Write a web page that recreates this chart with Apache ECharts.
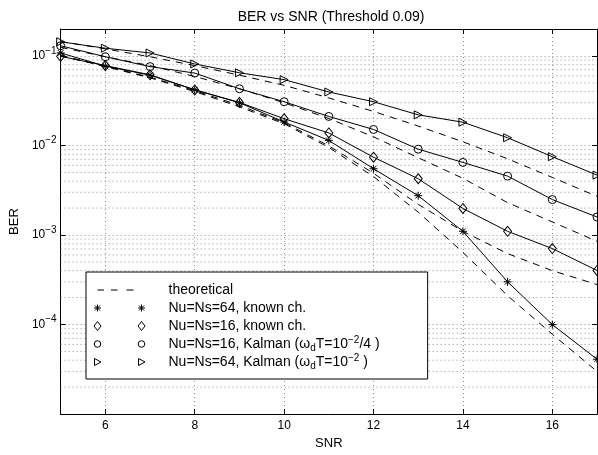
<!DOCTYPE html>
<html>
<head>
<meta charset="utf-8">
<script src="https://cdn.jsdelivr.net/npm/echarts@6/dist/echarts.min.js"></script>
<style>
html,body{margin:0;padding:0;background:#fff;}
#chart{width:598px;height:455px;}
</style>
</head>
<body>
<div id="chart"></div>
<script>
// ---- data ----
var snr = [5, 6, 7, 8, 9, 10, 11, 12, 13, 14, 15, 16, 17];
var knownNs64 = [0.108, 0.077, 0.061, 0.042, 0.030, 0.0183, 0.0114, 0.0055, 0.00275, 0.0011, 0.0003, 0.0001, 0.000041];
var knownNs16 = [0.099, 0.078, 0.0616, 0.0417, 0.0303, 0.0199, 0.0138, 0.0074, 0.00425, 0.00198, 0.0011, 0.000706, 0.000402];
var kalmanNs16 = [0.13, 0.098, 0.076, 0.0644, 0.043, 0.0308, 0.0211, 0.0151, 0.0091, 0.00647, 0.00455, 0.00249, 0.00159];
var kalmanNs64 = [0.144, 0.122, 0.108, 0.0814, 0.0649, 0.0544, 0.0396, 0.0308, 0.022, 0.0182, 0.0122, 0.0075, 0.00467];
var theoryA = [0.102, 0.076, 0.057, 0.040, 0.027, 0.0175, 0.0095, 0.0045, 0.0018, 0.00064, 0.00021, 0.000078, 0.00003];
var theoryB = [0.100, 0.077, 0.058, 0.041, 0.028, 0.018, 0.0099, 0.0049, 0.0022, 0.0011, 0.00062, 0.0004, 0.00028];
var theoryC = [0.125, 0.098, 0.078, 0.059, 0.043, 0.030, 0.020, 0.0125, 0.0073, 0.0043, 0.0023, 0.0014, 0.00085];
var theoryD = [0.145, 0.120, 0.098, 0.078, 0.061, 0.047, 0.034, 0.024, 0.0165, 0.011, 0.0071, 0.0044, 0.0027];
var xTicks = [6, 8, 10, 12, 14, 16];
var legendNames = ['theoretical', 'Nu=Ns=64, known ch.', 'Nu=Ns=16, known ch.', 'Nu=Ns=16, Kalman', 'Nu=Ns=64, Kalman'];

function pairs(ys) { return snr.map(function (x, i) { return [x, ys[i]]; }); }

var FONT = '"Liberation Sans", Arial, Helvetica, sans-serif';

// symbols
var SYM_STAR = 'path://M0,5L10,5M5,0L5,10M1.5,1.5L8.5,8.5M8.5,1.5L1.5,8.5';
var SYM_DIAMOND = 'path://M5,0L10,6L5,12L0,6Z';
var SYM_CIRCLE = 'path://M10,5A5,5,0,1,1,0,5A5,5,0,1,1,10,5Z';
var SYM_TRI = 'path://M0,0L10,5L0,10Z';

// legend icons (box 70 x 10, markers centred at x=4 and x=48)
var ANCH = 'M0,0L0,0M70,10L70,10';
function starAt(cx) {
  var r = 3.5, d = 2.5;
  return 'M' + (cx - r) + ',5L' + (cx + r) + ',5M' + cx + ',' + (5 - r) + 'L' + cx + ',' + (5 + r) +
    'M' + (cx - d) + ',' + (5 - d) + 'L' + (cx + d) + ',' + (5 + d) + 'M' + (cx + d) + ',' + (5 - d) + 'L' + (cx - d) + ',' + (5 + d);
}
function diamondAt(cx) { return 'M' + cx + ',0.5L' + (cx + 3.5) + ',5L' + cx + ',9.5L' + (cx - 3.5) + ',5Z'; }
function circleAt(cx) { return 'M' + (cx + 3.3) + ',5A3.3,3.3,0,1,1,' + (cx - 3.3) + ',5A3.3,3.3,0,1,1,' + (cx + 3.3) + ',5Z'; }
function triAt(cx) { return 'M' + (cx - 3) + ',1.5L' + (cx + 3.5) + ',5L' + (cx - 3) + ',8.5Z'; }
function dashRect(a, b) { return 'M' + a + ',4.5L' + b + ',4.5L' + b + ',5.5L' + a + ',5.5Z'; }
var ICON_THEORY = 'path://' + ANCH + dashRect(4, 10.5) + dashRect(17.5, 24) + dashRect(33, 40);
var ICON_STAR = 'path://' + ANCH + starAt(4) + starAt(48);
var ICON_DIAMOND = 'path://' + ANCH + diamondAt(4) + diamondAt(48);
var ICON_CIRCLE = 'path://' + ANCH + circleAt(4) + circleAt(48);
var ICON_TRI = 'path://' + ANCH + triAt(4) + triAt(48);

var strokeIcon = { color: 'transparent', borderColor: '#000', borderWidth: 1 };

// minor grid positions on the log axis (2..9 x 10^e)
var minorVals = [];
for (var e = -5; e <= -2; e++) {
  for (var k = 2; k <= 9; k++) minorVals.push(+(k * Math.pow(10, e)).toPrecision(3));
}

var GRID_LINE = { type: [1, 3], color: '#8c8c8c', width: 1 };

function gridSeries(v) {
  return {
    type: 'line', data: [[snr[0], v], [snr[snr.length - 1], v]], symbol: 'none',
    lineStyle: GRID_LINE, z: 1, silent: true, legendHoverLink: false, tooltip: { show: false }
  };
}
function theorySeries(ys) {
  return {
    name: 'theoretical', type: 'line', data: pairs(ys), symbol: 'none',
    lineStyle: { color: '#000', width: 1, type: [7, 6] }, itemStyle: { color: '#000' },
    z: 3, silent: true
  };
}
function markerSeries(name, ys, sym, size) {
  return {
    name: name, type: 'line', data: pairs(ys), symbol: sym, symbolSize: size,
    showAllSymbol: true,
    lineStyle: { color: '#000', width: 1, type: 'solid' },
    itemStyle: { color: 'transparent', borderColor: '#000', borderWidth: 1 },
    z: 4, silent: true
  };
}

var series = minorVals.map(gridSeries).concat([
  theorySeries(theoryA),
  theorySeries(theoryB),
  theorySeries(theoryC),
  theorySeries(theoryD),
  markerSeries(legendNames[1], knownNs64, SYM_STAR, 8),
  markerSeries(legendNames[2], knownNs16, SYM_DIAMOND, [8, 10]),
  markerSeries(legendNames[3], kalmanNs16, SYM_CIRCLE, 8),
  markerSeries(legendNames[4], kalmanNs64, SYM_TRI, [8, 8])
]);

var chart = echarts.init(document.getElementById('chart'), null, { renderer: 'canvas' });
chart.setOption({
  animation: false,
  backgroundColor: '#fff',
  textStyle: { fontFamily: FONT, color: '#000' },
  title: {
    text: 'BER vs SNR (Threshold 0.09)', left: 326, top: 5, textAlign: 'center',
    textStyle: { fontFamily: FONT, fontSize: 14, fontWeight: 'normal', color: '#000' }
  },
  grid: { left: 56, right: 1, top: 29, bottom: 33, containLabel: false },
  legend: {
    orient: 'vertical', left: 86, top: 272,
    backgroundColor: '#fff', borderColor: '#000', borderWidth: 1,
    padding: [9, 48, 8, 7], itemGap: 0, itemWidth: 70, itemHeight: 10,
    selectedMode: false,
    textStyle: {
      fontFamily: FONT, fontSize: 14, color: '#000', lineHeight: 18,
      rich: {
        sub: { fontFamily: FONT, fontSize: 10, lineHeight: 8, verticalAlign: 'bottom', color: '#000' },
        sup: { fontFamily: FONT, fontSize: 10, lineHeight: 8, verticalAlign: 'top', color: '#000' }
      }
    },
    formatter: function (n) {
      if (n === 'Nu=Ns=16, Kalman') return 'Nu=Ns=16, Kalman (\u03c9{sub|d}T=10{sup|\u22122}/4 )';
      if (n === 'Nu=Ns=64, Kalman') return 'Nu=Ns=64, Kalman (\u03c9{sub|d}T=10{sup|\u22122} )';
      return n;
    },
    data: [
      { name: legendNames[0], icon: ICON_THEORY, itemStyle: { color: '#000', borderWidth: 0 } },
      { name: legendNames[1], icon: ICON_STAR, itemStyle: strokeIcon },
      { name: legendNames[2], icon: ICON_DIAMOND, itemStyle: strokeIcon },
      { name: legendNames[3], icon: ICON_CIRCLE, itemStyle: strokeIcon },
      { name: legendNames[4], icon: ICON_TRI, itemStyle: strokeIcon }
    ]
  },
  xAxis: [{
    type: 'value', min: 5, max: 17, minInterval: 2, maxInterval: 2, splitNumber: 6,
    name: 'SNR', nameLocation: 'middle', nameGap: 19,
    nameTextStyle: { fontFamily: FONT, fontSize: 13, color: '#000' },
    axisLine: { show: true, onZero: false, lineStyle: { color: '#000', width: 1 } },
    axisTick: { show: true, inside: true, length: 5, lineStyle: { color: '#000' } },
    axisLabel: {
      show: true, margin: 6, fontFamily: FONT, fontSize: 12, color: '#000',
      showMinLabel: false, showMaxLabel: false,
      formatter: function (v) { return xTicks.indexOf(v) >= 0 ? String(v) : ''; }
    },
    splitLine: { show: true, lineStyle: GRID_LINE }
  }, {
    type: 'value', min: 5, max: 17, minInterval: 2, maxInterval: 2, splitNumber: 6, position: 'top',
    axisLine: { show: true, onZero: false, lineStyle: { color: '#000', width: 1 } },
    axisTick: { show: true, inside: true, length: 5, lineStyle: { color: '#000' } },
    axisLabel: { show: false }, splitLine: { show: false }
  }],
  yAxis: [{
    type: 'log', logBase: 10, min: 1e-5, max: 0.2,
    name: 'BER', nameLocation: 'middle', nameGap: 37, nameRotate: 90,
    nameTextStyle: { fontFamily: FONT, fontSize: 13, color: '#000' },
    axisLine: { show: true, onZero: false, lineStyle: { color: '#000', width: 1 } },
    axisTick: { show: true, inside: true, length: 5, lineStyle: { color: '#000' } },
    axisLabel: {
      show: true, margin: 4, showMinLabel: false, showMaxLabel: false,
      fontFamily: FONT, fontSize: 12, color: '#000', lineHeight: 20,
      rich: { sup: { fontFamily: FONT, fontSize: 10, lineHeight: 9, verticalAlign: 'top', color: '#000' } },
      formatter: function (v) {
        var ex = Math.round(Math.log(v) / Math.LN10);
        return '10{sup|\u2212' + Math.abs(ex) + '}';
      }
    },
    splitLine: { show: true, lineStyle: GRID_LINE }
  }, {
    type: 'log', logBase: 10, min: 1e-5, max: 0.2, position: 'right',
    axisLine: { show: true, onZero: false, lineStyle: { color: '#000', width: 1 } },
    axisTick: { show: true, inside: true, length: 5, lineStyle: { color: '#000' } },
    axisLabel: { show: false }, splitLine: { show: false }
  }],
  series: series
});
</script>
</body>
</html>
